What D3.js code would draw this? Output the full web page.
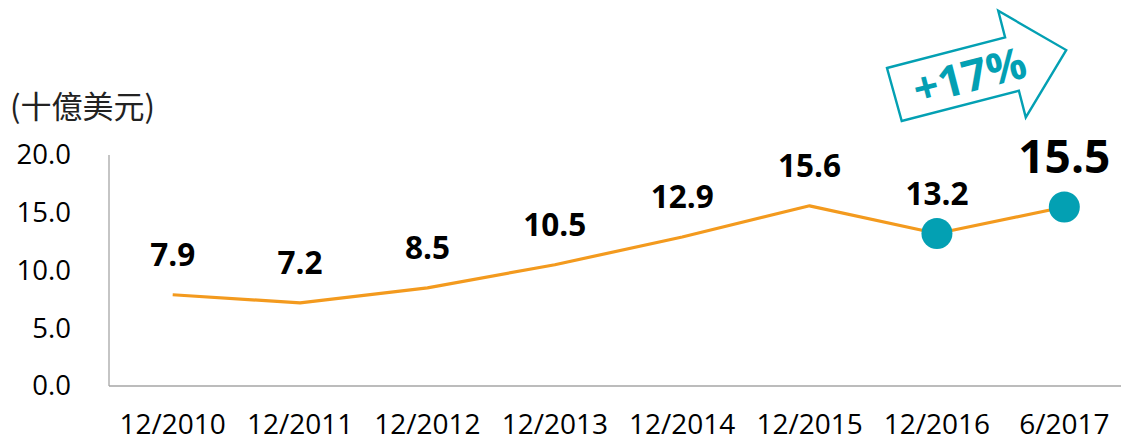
<!DOCTYPE html>
<html>
<head>
<meta charset="utf-8">
<script src="https://cdn.jsdelivr.net/npm/d3@7"></script>
<style>
  html, body { margin: 0; padding: 0; background: #fff; }
  svg { display: block; }
</style>
</head>
<body>
<svg id="chart" width="1121" height="442"></svg>
<script>
const categories = ["12/2010", "12/2011", "12/2012", "12/2013", "12/2014", "12/2015", "12/2016", "6/2017"];
const values = [7.9, 7.2, 8.5, 10.5, 12.9, 15.6, 13.2, 15.5];
const highlighted = ["12/2016", "6/2017"];
const yTicks = [0, 5, 10, 15, 20];
const unitLabel = "(十億美元)";
const growthLabel = "+17%";

const ORANGE = "#f39a1e";
const TEAL = "#03a0b3";
const FONT = "'Open Sans', 'Liberation Sans', sans-serif";

const svg = d3.select("#chart");
const mLeft = 109, mRight = 1128, mTop = 155, mBottom = 386;

const x = d3.scaleBand().domain(categories).range([mLeft, mRight]).padding(0);
const cx = c => x(c) + x.bandwidth() / 2;
const y = d3.scaleLinear().domain([0, 20]).range([mBottom, mTop]);

// axes lines
svg.append("line").attr("x1", mLeft).attr("x2", mLeft).attr("y1", y(20)).attr("y2", y(0))
  .attr("stroke", "#a6a6a6").attr("stroke-width", 1.3);
svg.append("line").attr("x1", mLeft).attr("x2", 1121).attr("y1", y(0)).attr("y2", y(0))
  .attr("stroke", "#a6a6a6").attr("stroke-width", 1.3);

// y tick labels
const yAxis = d3.axisLeft(y).tickValues(yTicks).tickFormat(d3.format(".1f")).tickSize(0).tickPadding(38);
const gy = svg.append("g").attr("transform", `translate(${mLeft},0)`).call(yAxis);
gy.select(".domain").remove();
gy.selectAll("text").attr("font-family", FONT).attr("font-size", 27.5).attr("fill", "#000");

// x tick labels
const xAxis = d3.axisBottom(x).tickSize(0).tickPadding(28);
const gx = svg.append("g").attr("transform", `translate(0,${mBottom})`).call(xAxis);
gx.select(".domain").remove();
gx.selectAll("text").attr("font-family", FONT).attr("font-size", 28).attr("fill", "#000");

// unit label
svg.append("text").attr("x", 10).attr("y", 118).text(unitLabel)
  .attr("font-family", "'Noto Sans CJK TC', 'Noto Sans CJK SC', sans-serif")
  .attr("font-size", 31).attr("fill", "#222");

// line
const data = categories.map((c, i) => ({ c, v: values[i] }));
const line = d3.line().x(d => cx(d.c)).y(d => y(d.v));
svg.append("path").datum(data).attr("d", line).attr("fill", "none")
  .attr("stroke", ORANGE).attr("stroke-width", 3.2).attr("stroke-linejoin", "round");

// highlighted markers
svg.selectAll("circle.hl").data(data.filter(d => highlighted.includes(d.c))).join("circle")
  .attr("class", "hl").attr("cx", d => cx(d.c)).attr("cy", d => y(d.v)).attr("r", 15.5)
  .attr("fill", TEAL);

// value labels
const last = data.length - 1;
svg.selectAll("text.val").data(data).join("text").attr("class", "val")
  .attr("x", d => cx(d.c))
  .attr("y", (d, i) => y(d.v) - (i === last ? 34 : 29))
  .attr("text-anchor", "middle")
  .attr("font-family", FONT).attr("font-weight", "bold")
  .attr("font-size", (d, i) => i === last ? 46 : 31.5)
  .attr("fill", "#000")
  .text(d => d.v.toFixed(1));

// growth arrow annotation (local shape, rotated)
const arrowShape = [[0,0],[122,0],[122,-27.5],[178,27.5],[122,82.5],[122,55],[1,55]];
const ag = svg.append("g").attr("transform", "translate(887,68) rotate(-14.5)");
ag.append("polygon").attr("points", arrowShape.map(p => p.join(",")).join(" "))
  .attr("fill", "#fff").attr("stroke", TEAL).attr("stroke-width", 2.4).attr("stroke-linejoin", "miter");
ag.append("text").attr("x", 78).attr("y", 44).attr("text-anchor", "middle")
  .attr("font-family", FONT).attr("font-weight", "bold").attr("font-size", 44)
  .attr("fill", TEAL).text(growthLabel);
</script>
</body>
</html>
